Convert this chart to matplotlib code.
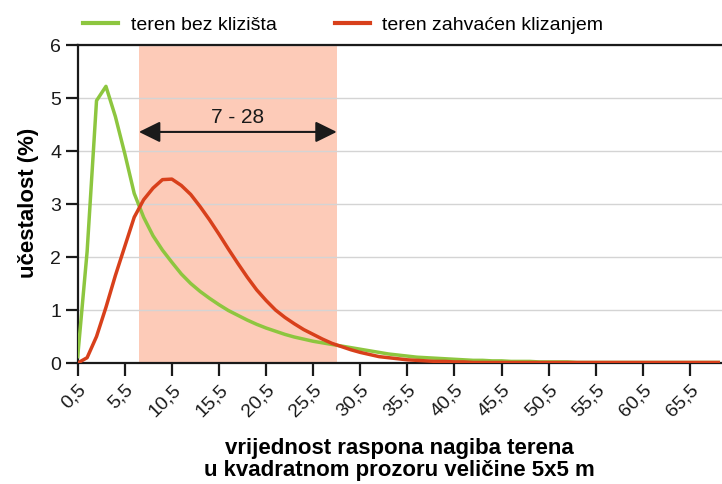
import numpy as np
import matplotlib
matplotlib.use("Agg")
import matplotlib.pyplot as plt
from matplotlib.lines import Line2D

plt.rcParams["font.family"] = ["Liberation Sans", "DejaVu Sans"]

# bin centres of the slope-range histogram (0,5 ... 68,5)
bins = np.arange(0.5, 69.0, 1.0)

# frequency (%) of terrain without landslides
bez_klizista = [
    0.12, 2.10, 4.95, 5.22, 4.65, 3.95, 3.20, 2.75, 2.40, 2.13,
    1.90, 1.68, 1.50, 1.35, 1.22, 1.10, 0.99, 0.90, 0.81, 0.73,
    0.66, 0.60, 0.54, 0.49, 0.45, 0.41, 0.38, 0.35, 0.32, 0.29,
    0.26, 0.23, 0.20, 0.17, 0.15, 0.13, 0.11, 0.10, 0.09, 0.08,
    0.07, 0.06, 0.05, 0.05, 0.04, 0.04, 0.03, 0.03, 0.03, 0.02,
    0.02, 0.02, 0.02, 0.01, 0.01, 0.01, 0.01, 0.01, 0.01, 0.01,
    0.01, 0.01, 0.01, 0.01, 0.01, 0.01, 0.01, 0.01, 0.01,
]

# frequency (%) of terrain affected by sliding
zahvacen_klizanjem = [
    0.00, 0.10, 0.50, 1.05, 1.65, 2.20, 2.75, 3.08, 3.30, 3.46,
    3.47, 3.35, 3.18, 2.95, 2.70, 2.43, 2.15, 1.88, 1.62, 1.38,
    1.18, 1.00, 0.86, 0.74, 0.63, 0.54, 0.45, 0.37, 0.31, 0.25,
    0.20, 0.16, 0.12, 0.10, 0.08, 0.06, 0.05, 0.04, 0.03, 0.03,
    0.02, 0.02, 0.01, 0.01, 0.01, 0.01, 0.01, 0.01, 0.01, 0.01,
    0.01, 0.01, 0.01, 0.01, 0.01, 0.01, 0.01, 0.01, 0.01, 0.01,
    0.01, 0.01, 0.01, 0.01, 0.01, 0.01, 0.01, 0.01, 0.01,
]

raspon = (7, 28)
xticks = np.arange(0.5, 66.0, 5.0)
xtick_labels = [f"{t:.1f}".replace(".", ",") for t in xticks]

GREEN = "#8dc63f"
RED = "#d8401b"
SHADE = "#fdcbb8"
INK = "#1a1a1a"

fig = plt.figure(figsize=(7.22, 4.84), dpi=100)
ax = fig.add_axes([0.1076, 0.25, 0.8924, 0.657])

ax.axvspan(raspon[0], raspon[1], color=SHADE, lw=0, zorder=0)
ax.set_axisbelow(True)
ax.yaxis.grid(True, color="#d4d4d4", lw=1.0)

ax.plot(bins, bez_klizista, color=GREEN, lw=2.5, zorder=3, solid_joinstyle="round")
ax.plot(bins, zahvacen_klizanjem, color=RED, lw=2.5, zorder=4, solid_joinstyle="round")

# range arrow with label
ax.annotate("", xy=(raspon[0], 4.36), xytext=(raspon[1], 4.36),
            arrowprops=dict(arrowstyle="<|-|>,head_length=0.65,head_width=0.32",
                            color=INK, lw=1.5, mutation_scale=20,
                            shrinkA=0, shrinkB=0))
ax.text(sum(raspon) / 2, 4.46, f"{raspon[0]} - {raspon[1]}", ha="center",
        va="bottom", fontsize=15, color=INK)

ax.set_xlim(0.5, 68.9)
ax.set_ylim(0, 6)
ax.set_yticks(range(0, 7))
ax.set_xticks(xticks)
ax.set_xticklabels(xtick_labels, rotation=45, ha="right", rotation_mode="anchor")
ax.tick_params(axis="both", direction="out", length=9, width=1.6, colors=INK)
ax.tick_params(axis="y", labelsize=14, pad=3)
ax.tick_params(axis="x", labelsize=14, pad=4)

for side in ("left", "bottom", "top"):
    ax.spines[side].set_linewidth(1.6)
    ax.spines[side].set_color(INK)
ax.spines["right"].set_visible(False)

ax.set_ylabel("učestalost (%)", fontsize=16, fontweight="bold")
ax.yaxis.set_label_coords(-0.060, 0.505)
ax.set_xlabel("vrijednost raspona nagiba terena\nu kvadratnom prozoru veličine 5x5 m",
              fontsize=16, fontweight="bold", linespacing=1.05)
ax.xaxis.set_label_coords(0.5, -0.235)

handles = [Line2D([], [], color=GREEN, lw=3), Line2D([], [], color=RED, lw=3)]
fig.legend(handles, ["teren bez klizišta", "teren zahvaćen klizanjem"],
           loc="center left", bbox_to_anchor=(83 / 722, 1 - 25 / 484), ncol=2,
           frameon=False, fontsize=14, handlelength=1.8, handletextpad=0.65,
           columnspacing=3.0, borderpad=0, borderaxespad=0)

fig.savefig("out.png", dpi=100)
